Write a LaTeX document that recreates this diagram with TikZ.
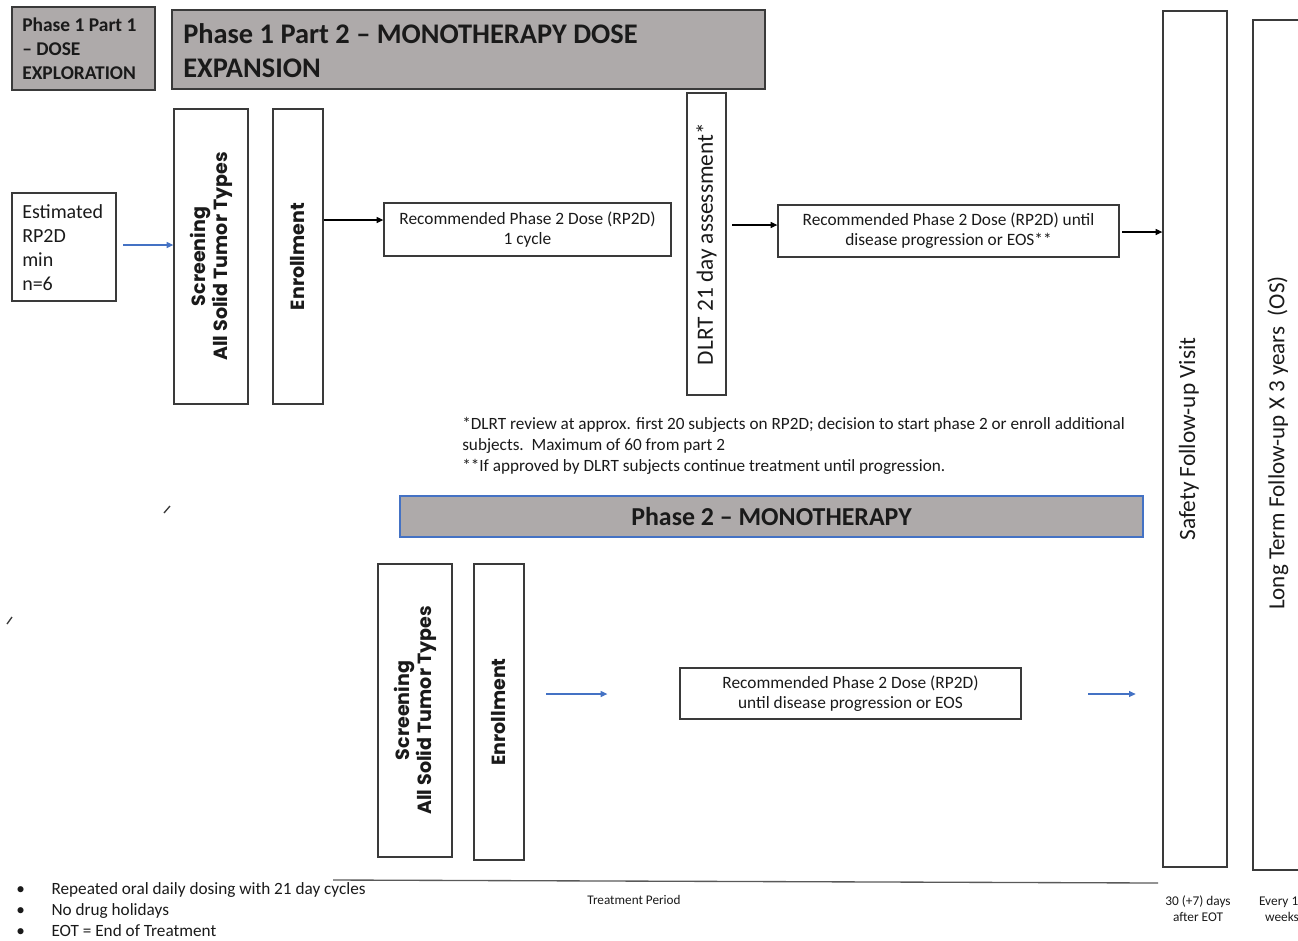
\documentclass[tikz,border=0pt]{standalone}
\usepackage{fontspec}
\setmainfont{Carlito}
\newfontfamily\geo{Poppins}
\usetikzlibrary{arrows.meta,fit}

\definecolor{boxline}{HTML}{3A3A3A}
\definecolor{bandgray}{HTML}{AEAAAA}
\definecolor{arrowblue}{HTML}{4472C4}
\definecolor{inkblack}{HTML}{1A1A1A}

\newcommand{\fs}[2]{\fontsize{#1}{#2}\selectfont}

\begin{document}
\begin{tikzpicture}[x=0.75pt,y=-0.75pt,
  box/.style={draw=boxline, line width=1pt, inner sep=0pt},
  band/.style={box, fill=bandgray},
  txt/.style={inner sep=0pt, text=inkblack},
  vtxt/.style={txt, rotate=90, align=center},
  arr/.style={-{Triangle[length=5pt,width=4.5pt]}, line width=0.8pt, draw=black},
  barr/.style={arr, draw=arrowblue},
  rule/.style={draw=gray!70!black, line width=1pt}
]
\useasboundingbox (0,0) rectangle (1298,940);

% --- header bands ---
\node[band, fit={(12,7) (155,90)}] (p11) {};
\node[txt, anchor=west, align=left, font=\bfseries\fs{14.6pt}{18pt}] (p11t) at (22,49) {Phase 1 Part 1\\– DOSE\\EXPLORATION};
\node[band, fit={(172,10) (765,89)}] (p12) {};
\node[txt, anchor=west, align=left, font=\bfseries\fs{21.3pt}{25.5pt}] (p12t) at (183,51) {Phase 1 Part 2 – MONOTHERAPY DOSE\\EXPANSION};

% --- phase 1 part 2 flow ---
\node[box, fit={(12,193) (116,301)}] (est) {};
\node[txt, anchor=west, align=left, font=\fs{15pt}{18pt}] (estt) at (22,248) {Estimated\\RP2D\\min\\n=6};

\node[box, fit={(174,109) (248,404)}] (scr1) {};
\node[vtxt, font=\geo\bfseries\fs{14.3pt}{16.5pt}] (scr1t) at (scr1.center) {Screening\\All Solid Tumor Types};
\node[box, fit={(273,109) (323,404)}] (enr1) {};
\node[vtxt, font=\geo\bfseries\fs{14.3pt}{16.5pt}] (enr1t) at (enr1.center) {Enrollment};

\node[box, fit={(384,203) (671,256)}] (rp1) {};
\node[txt, align=center, font=\fs{13pt}{15pt}] (rp1t) at (rp1.center) {Recommended Phase 2 Dose (RP2D)\\1 cycle};

\node[box, fit={(687,93) (726,395)}] (dlrt) {};
\node[vtxt, font=\fs{17.5pt}{18pt}] (dlrtt) at (dlrt.center) {DLRT 21 day assessment*};

\node[box, fit={(778,205) (1119,257)}] (rp2) {};
\node[txt, align=center, font=\fs{13pt}{15pt}] (rp2t) at (rp2.center) {Recommended Phase 2 Dose (RP2D) until\\disease progression or EOS**};

% --- follow-up columns ---
\node[box, fit={(1163,11) (1227,867)}] (safe) {};
\node[vtxt, font=\fs{17.5pt}{18pt}] (safet) at (1189,439) {Safety Follow-up Visit};
\node[box, fit={(1253,20) (1330,870)}] (lt) {};
\node[vtxt, font=\fs{17.3pt}{18pt}] (ltt) at (1278,443) {Long Term Follow-up X 3 years\ \ (OS)};

% --- footnotes ---
\node[txt, anchor=west, align=left, font=\fs{12.9pt}{15.75pt}] (notes) at (462,446)
  {*DLRT review at approx. first 20 subjects on RP2D; decision to start phase 2 or enroll additional\\
   subjects.\ \ Maximum of 60 from part 2\\
   **If approved by DLRT subjects continue treatment until progression.};

% --- phase 2 ---
\node[band, draw=arrowblue, fit={(400,496) (1143,537)}] (p2) {};
\node[txt, font=\bfseries\fs{19.4pt}{20pt}] (p2t) at (p2.center) {Phase 2 – MONOTHERAPY};

\node[box, fit={(378,564) (452,857)}] (scr2) {};
\node[vtxt, font=\geo\bfseries\fs{14.3pt}{16.5pt}] (scr2t) at (scr2.center) {Screening\\All Solid Tumor Types};
\node[box, fit={(474,564) (524,860)}] (enr2) {};
\node[vtxt, font=\geo\bfseries\fs{14.3pt}{16.5pt}] (enr2t) at (enr2.center) {Enrollment};

\node[box, fit={(680,668) (1021,719)}] (rp3) {};
\node[txt, align=center, font=\fs{13pt}{15pt}] (rp3t) at (rp3.center) {Recommended Phase 2 Dose (RP2D)\\until disease progression or EOS};

% --- connectors ---
\draw[barr, shorten <=5pt] (est.east |- 0,245) -- (scr1.west |- 0,245);
\draw[arr] (enr1.east |- 0,220) -- (rp1.west |- 0,220);
\draw[arr, shorten <=4pt] (dlrt.east |- 0,225) -- (rp2.west |- 0,225);
\draw[arr, shorten <=2pt] (rp2.east |- 0,232) -- (safe.west |- 0,232);
\draw[barr, shorten <=16pt, shorten >=54pt] (enr2.east |- 0,694) -- (rp3.west |- 0,694);
\draw[barr, shorten <=50pt, shorten >=20pt] (rp3.east |- 0,694) -- (safe.west |- 0,694);

% --- time axis and labels ---
\coordinate (axisL) at (333,880);
\coordinate (axisR) at (1158,883);
\draw[rule] (axisL) -- (axisR);
\node[txt, font=\fs{9.9pt}{12pt}] (tp) at (634,900) {Treatment Period};
\node[txt, align=center, font=\fs{10pt}{12pt}] (sfu) at (1198,909) {30 (+7) days\\after EOT};
\node[txt, align=center, font=\fs{10pt}{12pt}] (ltfu) at (1282,909) {Every 12\\weeks};

\node[txt, anchor=west, font=\fs{12.9pt}{15.75pt}] (bullets) at (16,911)
  {\begin{tabular}{@{}p{26.5pt}@{}l@{}}
   \textbullet & Repeated oral daily dosing with 21 day cycles\\
   \textbullet & No drug holidays\\
   \textbullet & EOT = End of Treatment
   \end{tabular}};

% stray tick marks
\draw[line width=1pt, draw=boxline] (164,513) -- (170,506);
\draw[line width=1pt, draw=boxline] (7,624) -- (12,617);
\end{tikzpicture}
\end{document}
